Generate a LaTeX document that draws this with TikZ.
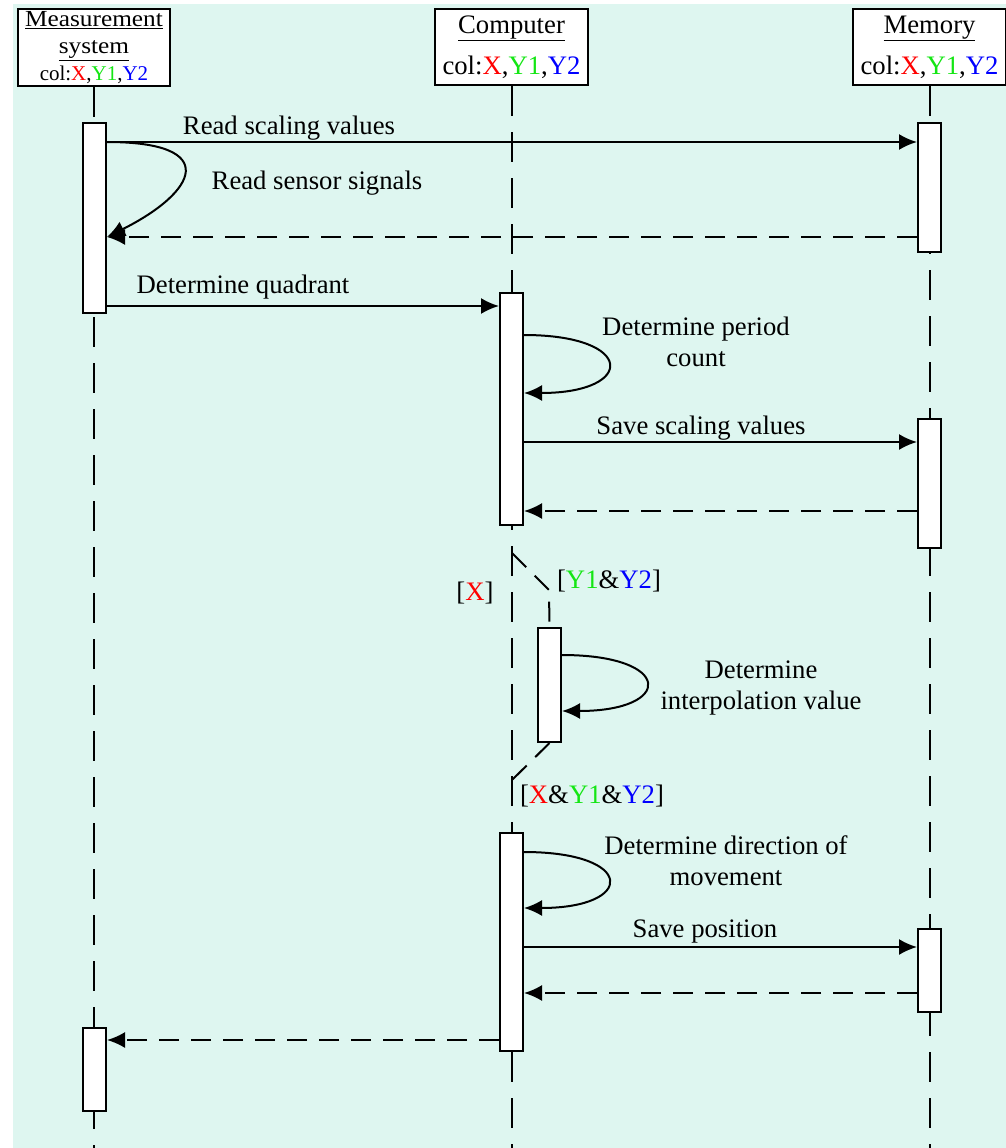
\documentclass[tikz,border=0pt]{standalone}
\usepackage{fontspec}
\setmainfont{Liberation Serif}
\usetikzlibrary{arrows.meta,calc}
\definecolor{bgmint}{RGB}{222,246,240}
\definecolor{xcol}{RGB}{255,0,0}
\definecolor{yacol}{RGB}{20,230,20}
\definecolor{ybcol}{RGB}{0,0,255}
\newcommand{\cX}{\textcolor{xcol}{X}}
\newcommand{\cYa}{\textcolor{yacol}{Y1}}
\newcommand{\cYb}{\textcolor{ybcol}{Y2}}

\begin{document}
\begin{tikzpicture}[x=1pt,y=-1pt,line width=2pt,
    font=\fontsize{26.7}{31}\selectfont,
    head/.style={draw,fill=white,minimum width=153pt,minimum height=76pt,inner sep=0pt,align=center},
    bar/.style={draw,fill=white,minimum width=23pt,inner sep=0pt},
    lane/.style={dash pattern=on 30pt off 16pt},
    branch/.style={dash pattern=on 20pt off 12pt},
    msg/.style={-{Latex[length=18pt,width=16pt]}},
    reply/.style={msg,dash pattern=on 20pt off 12pt},
    lbl/.style={inner sep=0pt,align=center}]
  \useasboundingbox (0,0) rectangle (1006,1148);
  \fill[bgmint] (13,4) rectangle (1006,1148);

  \node[head,minimum width=152pt,minimum height=77pt,font=\fontsize{23}{27}\selectfont] (mhead) at (94,47.5)
    {\underline{\scalebox{1.1}[1]{Measurement}}\\\underline{\scalebox{1.1}[1]{system}}\\{\fontsize{21}{27}\selectfont col:\cX,\cYa,\cYb}};
  \node[head,font=\fontsize{26.7}{41}\selectfont] (chead) at (511.5,47) {\underline{Computer}\\col:\cX,\cYa,\cYb};
  \node[head,font=\fontsize{26.7}{41}\selectfont] (rhead) at (929.5,47) {\underline{Memory}\\col:\cX,\cYa,\cYb};

  \coordinate (bottom) at (0,1148);
  \draw[lane] (mhead.south) -- (mhead.south |- bottom);
  \draw[lane] (chead.south) -- (chead.south |- bottom);
  \draw[lane] (rhead.south) -- (rhead.south |- bottom);

  \coordinate (split) at (512,553);
  \coordinate (join) at (512,780);

  \node[bar,minimum height=190pt] (mbar1) at (94.5,218) {};
  \node[bar,minimum height=129pt] (rbar1) at (929.5,187.5) {};
  \node[bar,minimum height=232pt] (cbar1) at (511.5,409) {};
  \node[bar,minimum height=129pt] (rbar2) at (929.5,483.5) {};
  \node[bar,minimum height=114pt] (bbar) at (549.5,685) {};
  \node[bar,minimum height=218pt] (cbar2) at (511.5,942) {};
  \node[bar,minimum height=83pt] (rbar3) at (929.5,970.5) {};
  \node[bar,minimum height=83pt] (mbar2) at (94.5,1069.5) {};

  \draw[branch] (split) -- ++(37,37) -- (bbar.north);
  \draw[branch] (bbar.south) -- (join);

  \coordinate (r1) at (0,142);
  \coordinate (r2) at (0,237);
  \coordinate (r3) at (0,306);
  \coordinate (r4) at (0,335);
  \coordinate (r5) at (0,393);
  \coordinate (r6) at (0,442);
  \coordinate (r7) at (0,511);
  \coordinate (r8) at (0,655);
  \coordinate (r9) at (0,711);
  \coordinate (r10) at (0,852);
  \coordinate (r11) at (0,908);
  \coordinate (r12) at (0,947);
  \coordinate (r13) at (0,993);
  \coordinate (r14) at (0,1040);

  \draw[msg] (mbar1.east |- r1) -- (rbar1.west |- r1);
  \draw[msg] (mbar1.east |- r1) .. controls +(115,0) and +(90,-45) .. (mbar1.east |- r2);
  \draw[reply] (rbar1.west |- r2) -- (mbar1.east |- r2);
  \draw[msg] (mbar1.east |- r3) -- (cbar1.west |- r3);
  \draw[msg] (cbar1.east |- r4) .. controls +(112,0) and +(112,0) .. (cbar1.east |- r5);
  \draw[msg] (cbar1.east |- r6) -- (rbar2.west |- r6);
  \draw[reply] (rbar2.west |- r7) -- (cbar1.east |- r7);
  \draw[msg] (bbar.east |- r8) .. controls +(112,0) and +(112,0) .. (bbar.east |- r9);
  \draw[msg] (cbar2.east |- r10) .. controls +(112,0) and +(112,0) .. (cbar2.east |- r11);
  \draw[msg] (cbar2.east |- r12) -- (rbar3.west |- r12);
  \draw[reply] (rbar3.west |- r13) -- (cbar2.east |- r13);
  \draw[reply] (cbar2.west |- r14) -- (mbar2.east |- r14);

  \node[lbl] (t1) at (289,128) {Read scaling values};
  \node[lbl] (t2) at (317,183) {Read sensor signals};
  \node[lbl] (t3) at (243,287) {Determine quadrant};
  \node[lbl] (t4) at (696,342) {Determine period\\count};
  \node[lbl] (t5) at (701,428) {Save scaling values};
  \node[lbl] (g1) at (475,593) {[\cX]};
  \node[lbl] (g2) at (609,581) {[\cYa\&\cYb]};
  \node[lbl] (t6) at (761,688) {Determine\\interpolation value};
  \node[lbl] (g3) at (592,796) {[\cX\&\cYa\&\cYb]};
  \node[lbl] (t7) at (726,861) {Determine direction of\\movement};
  \node[lbl] (t8) at (705,931) {Save position};
\end{tikzpicture}
\end{document}
